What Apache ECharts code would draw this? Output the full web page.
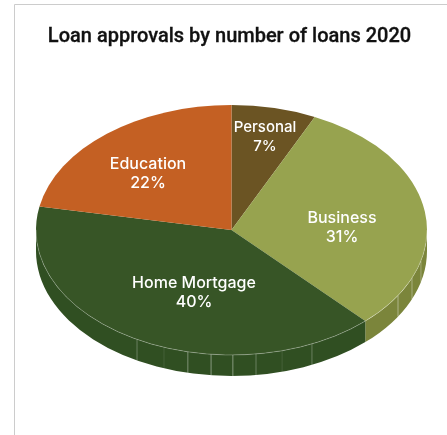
<!DOCTYPE html>
<html>
<head>
<meta charset="utf-8">
<style>
  html, body { margin: 0; padding: 0; background: #fff; }
  #chart { width: 447px; height: 435px; }
</style>
<script src="https://cdn.jsdelivr.net/npm/echarts@6/dist/echarts.min.js"></script>
</head>
<body>
<div id="chart"></div>
<script>
// Share of approved loans by category, clockwise from twelve o'clock
const categories = ['Personal', 'Business', 'Home Mortgage', 'Education'];
const shares = [7, 31, 40, 22];
const topColors = ['#6b5423', '#97a34f', '#375526', '#c46023'];
const sideColors = ['#574419', '#7b853b', '#304f22', '#a04f1c'];

// Tilted disc geometry
const disc = { cx: 231.5, cy: 230, rx: 195.5, ry: 125, depth: 21 };
// Label anchors relative to the disc centre, and their type sizes
const labelOffsets = [[33.5, -93.5], [110.5, -2.5], [-37.5, 62.5], [-83.5, -56.5]];
const labelSizes = [15, 16, 16, 16];
// Facet seams on the rim, in degrees clockwise from the top, with their strength
const rimSeams = [
  [104.3, 0.3], [112.6, 0.35], [121.6, 0.4],
  [155.7, 0.28], [165, 0.1], [172.8, 0.28], [179.6, 0.42],
  [186, 0.42], [192.9, 0.38], [200.2, 0.1], [208.9, 0.28]
];

const total = shares.reduce((a, b) => a + b, 0);

function rimPoint(deg, drop) {
  const t = deg * Math.PI / 180;
  return [disc.cx + disc.rx * Math.sin(t), disc.cy - disc.ry * Math.cos(t) + (drop || 0)];
}

// SVG elliptical arc from the current point to the rim at angle `to`
function arcTo(from, to, drop) {
  const end = rimPoint(to, drop);
  const large = Math.abs(to - from) > 180 ? 1 : 0;
  const sweep = to > from ? 1 : 0;
  return 'A' + disc.rx + ' ' + disc.ry + ' 0 ' + large + ' ' + sweep + ' ' + end[0] + ' ' + end[1];
}

function renderSlice(params, api) {
  const i = params.dataIndex;
  let before = 0;
  for (let k = 0; k < i; k++) before += shares[k];
  const from = before / total * 360;
  const to = (before + api.value(1)) / total * 360;
  const children = [];

  // Visible rim: only the part of the slice on the near half of the disc
  const a = Math.max(from, 90);
  const b = Math.min(to, 270);
  if (b > a) {
    const p0 = rimPoint(a, 0);
    const p1 = rimPoint(b, disc.depth);
    children.push({
      type: 'path',
      shape: {
        pathData: 'M' + p0[0] + ' ' + p0[1] + arcTo(a, b, 0) +
          'L' + p1[0] + ' ' + p1[1] + arcTo(b, a, disc.depth) + 'Z'
      },
      style: { fill: sideColors[i] }
    });
    rimSeams.filter(s => s[0] > a && s[0] < b).forEach(s => {
      const p = rimPoint(s[0], 0);
      const q = rimPoint(s[0], disc.depth);
      children.push({
        type: 'line',
        shape: { x1: p[0], y1: p[1], x2: q[0], y2: q[1] },
        style: { stroke: 'rgba(255,255,255,' + s[1] + ')', lineWidth: 1 }
      });
    });
  }

  // Slice face
  const start = rimPoint(from, 0);
  children.push({
    type: 'path',
    shape: {
      pathData: 'M' + disc.cx + ' ' + disc.cy + 'L' + start[0] + ' ' + start[1] + arcTo(from, to, 0) + 'Z'
    },
    style: { fill: topColors[i] }
  });

  // Thin highlight along the near edge of the face
  if (b > a) {
    const h = rimPoint(a, 0);
    children.push({
      type: 'path',
      shape: { pathData: 'M' + h[0] + ' ' + h[1] + arcTo(a, b, 0) },
      style: { fill: null, stroke: 'rgba(255,255,255,0.38)', lineWidth: 0.7 }
    });
  }

  // Name and percentage
  children.push({
    type: 'text',
    z2: 10,
    style: {
      x: disc.cx + labelOffsets[i][0],
      y: disc.cy + labelOffsets[i][1],
      text: api.value(0) + '\n' + api.value(1) + '%',
      fill: '#ffffff',
      font: '500 ' + labelSizes[i] + 'px Inter',
      lineHeight: 19,
      align: 'center',
      verticalAlign: 'middle'
    }
  });

  return { type: 'group', children };
}

const chart = echarts.init(document.getElementById('chart'), null, { renderer: 'canvas' });
chart.setOption({
  animation: false,
  backgroundColor: '#ffffff',
  title: {
    text: 'Loan approvals by number of loans 2020',
    left: 224.5,
    top: 22,
    textAlign: 'center',
    textStyle: {
      color: '#111111', fontFamily: 'Roboto', fontWeight: 500, fontSize: 20,
      textBorderColor: '#111111', textBorderWidth: 0.3
    }
  },
  graphic: [
    { type: 'line', shape: { x1: 14.5, y1: 4.5, x2: 447, y2: 4.5 }, style: { stroke: '#cccccc', lineWidth: 1 } },
    { type: 'line', shape: { x1: 14.5, y1: 4.5, x2: 14.5, y2: 435 }, style: { stroke: '#cccccc', lineWidth: 1 } }
  ],
  series: [{
    type: 'custom',
    coordinateSystem: 'none',
    renderItem: renderSlice,
    data: categories.map((name, i) => [name, shares[i]])
  }]
});
</script>
</body>
</html>
